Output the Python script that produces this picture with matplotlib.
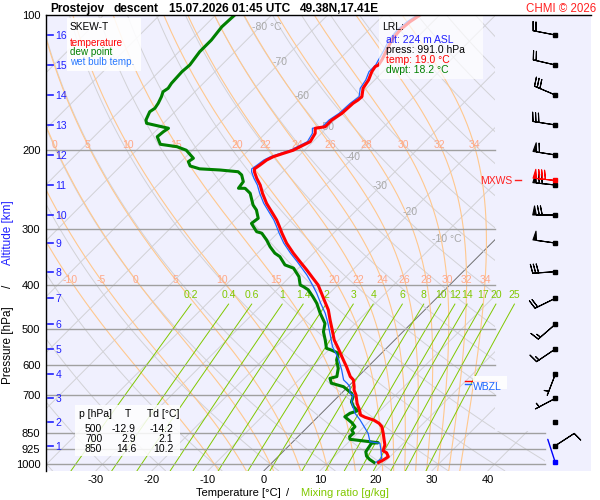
import numpy as np
import matplotlib
matplotlib.use('Agg')
import matplotlib.pyplot as plt
import matplotlib.patches as mpatches
import matplotlib.transforms as mtransforms
from matplotlib.ticker import NullLocator, NullFormatter

plt.rcParams['font.family'] = ['Liberation Sans', 'DejaVu Sans']

# ---------------- data ----------------
temp_p = [991, 978.5, 962, 943, 933, 906, 886, 853, 825, 811, 797, 786, 777, 757, 732, 701,
          684, 672, 649, 638, 607, 586, 552, 529, 503, 477.5, 453.6, 434.7, 416.4, 399,
          385.6, 369.5, 354, 339, 322, 306, 296, 286, 274, 262.5, 249.4, 239, 231, 223.3,
          220, 215.7, 210.3, 206.7, 203.2, 200, 196.4, 191.4, 183.4, 178.7, 177.3, 171.3,
          165.5, 157.2, 154.6, 152, 145.6, 139.5, 133.7, 130.3, 129.2, 125.9, 119.6, 113.7,
          108, 103.5, 100]
temp_T = [19.0, 19.4, 19.7, 18.7, 17.7, 17.0, 16.1, 14.6, 13.2, 12.1, 10.5, 8.5, 7.3, 6.2, 4.6, 2.9,
          1.7, 1.1, -0.25, -1.4, -3.8, -5.6, -8.6, -10.8, -12.9, -15.1, -17.2, -19.3, -21.4, -23.5,
          -25.6, -28.2, -30.9, -33.6, -36.6, -39.2, -40.8, -42.5, -44.9, -47.3, -49.8, -51.7, -53.5, -55.1,
          -55.6, -55.3, -55.0, -54.4, -53.2, -52.0, -51.4, -50.5, -51.1, -52.0, -50.5, -50.5,
          -49.9, -49.7, -49.4, -49.3, -50.6, -51.1, -52.0, -52.3, -52.0, -52.3, -53.2, -54.1,
          -54.4, -54.1, -53.5]

dwpt_p = [991, 975, 959, 938, 914, 898, 895.5, 880, 868, 853, 839, 825, 808, 784, 770, 764, 760,
          745, 726, 707, 695, 672, 660, 644, 638, 612, 586, 566, 557, 552, 529, 507, 486, 461,
          438, 424, 409, 402.5, 399, 382.4, 366, 360, 345, 339, 328, 317, 306, 303.6, 291, 283.5,
          271.7, 264.8, 249.4, 243.1, 243, 235, 227, 223.3, 221.3, 220, 216.8, 212, 208.4, 200,
          196.4, 194, 186.6, 181.9, 178.7, 174.2, 171.3, 164.2, 161.3, 157.2, 152, 148.2, 145.6,
          141.9, 133.7, 129.2, 120.7, 113.7, 106.2, 100]
dwpt_Td = [18.2, 16.8, 15.7, 14.8, 14.5, 14.3, 15.4, 9.75, 9.2, 9.3, 8.4, 8.4, 7.1, 4.8, 5.1, 5.7, 6.0,
           4.6, 3.3, 2.7, 1.8, -0.8, -3.6, -4.7, -3.8, -5.0, -6.8, -7.7, -9.5, -10.7, -12.4, -14.2, -15.4, -18.1,
           -20.5, -22.3, -24.4, -25.8, -26.7, -28.4, -30.9, -33.0, -35.4, -36.9, -38.9, -40.7, -42.8, -44.0, -46.4, -46.1,
           -47.9, -49.4, -52.0, -53.8, -55.0, -55.3, -56.8, -58.0, -61.6, -65.4, -67.6, -68.7, -68.4, -71.1,
           -73.4, -76.8, -78.7, -78.5, -78.2, -83.0, -83.7, -84.5, -84.2, -84.5, -85.1, -85.7, -85.4,
           -85.7, -85.9, -85.7, -86.3, -86.3, -86.8, -86.6]

wetb_p = [991, 970, 930, 898, 891, 853, 832, 797, 770, 726, 701, 695, 672, 660, 649, 617, 581,
          547.5, 515.6, 485.6, 461, 438, 416, 399, 379, 354, 339, 322, 306, 296, 286, 274, 262.5,
          249.4, 239, 231, 223.3, 220, 215.7, 210.3, 206.7, 203.2, 200, 196.4, 191.4, 183.4, 178.7,
          177.3, 171.3, 165.5, 157.2, 152, 145.6, 139.5, 133.7, 129.2, 119.6, 113.7, 108, 103.5, 100]
wetb_Tw = [18.5, 18.8, 17.2, 15.8, 13.75, 11.9, 10.5, 8.1, 6.0, 3.3, 2.4, 1.5, 0.36, -0.8, -2.0, -4.1, -6.8,
           -9.9, -12.4, -14.9, -17.2, -19.8, -22.3, -24.5, -27.3, -31.4, -34.1, -37.1, -39.7, -41.3, -43.0, -45.4, -47.8,
           -50.3, -52.2, -54.0, -55.6, -56.1, -55.8, -55.5, -54.9, -53.7, -52.5, -51.9, -51.0, -51.6, -52.5,
           -51.0, -51.0, -50.4, -50.2, -49.8, -51.1, -51.6, -52.5, -52.5, -53.7, -54.6, -54.9, -54.6, -54.0]

# winds at each km of altitude (16 km at top); speed in knots, direction in degrees
wind_km = [16, 15, 14, 13, 12, 11, 10, 9, 8, 7, 6, 5, 4, 3, 2, 1]
wind_p = [110.8, 129.2, 150.7, 175.7, 204.9, 239.0, 278.7, 321.8, 372.7, 427.2, 488.0, 554.0,
          630.6, 713.3, 806.6, 909.4]
wind_dir = [281, 283, 293, 279, 279, 276, 270, 278, 266, 244, 229, 236, 201, 242, 0, 57]
wind_spd = [20, 20, 30, 30, 60, 70, 70, 50, 30, 20, 15, 15, 5, 5, 0, 10]
mxws_p, mxws_dir, mxws_spd = 233.0, 276, 80
sfc_p, sfc_dir, sfc_spd = 991.0, 342, 2

zl_p = 652.0      # 0 deg C level
wbzl_p = 664.0    # wet bulb zero level

lrl_alt, lrl_press, lrl_temp, lrl_dwpt = 224, 991.0, 19.0, 18.2
table_p = [500, 700, 850]
table_T = [-12.9, 2.9, 14.6]
table_Td = [-14.2, 2.1, 10.2]

pressure_levels = [100, 200, 300, 400, 500, 600, 700, 850, 925, 1000]
temp_ticks = [-30, -20, -10, 0, 10, 20, 30, 40]
iso_lab_T = [-80, -70, -60, -50, -40, -30, -20, -10]
iso_lab_p = [106.3, 127.2, 151.5, 177.6, 207.1, 240.2, 274.5, 315.2]
iso_lab_txt = ['-80 °C', '-70', '-60', '-50', '-40', '-30', '-20', '-10 °C']
moist_thw = [-10, -5, 0, 5, 10, 15, 20, 22, 24, 26, 28, 30, 32, 34]
mix_ratios = [0.2, 0.4, 0.6, 1, 1.4, 2, 3, 4, 6, 8, 10, 12, 14, 17, 20, 25]

# ---------------- geometry ----------------
P_BOT = 1033.6
K = 195.1 / 5.6


def skx(T, p):
    return np.asarray(T, dtype=float) + K * np.log(P_BOT / np.asarray(p, dtype=float))


def px2X(px):
    return (px - 264.0) / 5.6


fig = plt.figure(figsize=(6, 5), dpi=100)
ax = fig.add_axes([46 / 600, 1 - 470.7 / 500, 545 / 600, 455.7 / 500])
ax.set_facecolor('#F0F0FE')
ax.set_yscale('log')

X0, X1 = px2X(46), px2X(591)

clip_verts = [(X0 - 5, 90), (px2X(495), 90), (px2X(495), 845), (px2X(545), 845),
              (px2X(545), 1100), (X0 - 5, 1100)]
clip = mpatches.Polygon(clip_verts, closed=True, transform=ax.transData)

GREY = '#D2D2D6'
# isotherms
for T in range(-120, 50, 10):
    col, lw = ('#707070', 0.7) if T == 0 else (GREY, 0.7)
    ln, = ax.plot(skx([T, T], [P_BOT, 100]), [P_BOT, 100], color=col, lw=lw, zorder=1)
    ln.set_clip_path(clip)

# dry adiabats
pp = np.geomspace(P_BOT, 100, 80)
for th in range(-40, 200, 10):
    T = (th + 273.15) * (pp / 1000.0) ** 0.2857 - 273.15
    ln, = ax.plot(skx(T, pp), pp, color=GREY, lw=0.7, zorder=1)
    ln.set_clip_path(clip)


# moist (pseudo) adiabats
def dT_dlnp(T, p):
    es = 6.112 * np.exp(17.67 * (T - 273.15) / (T - 29.65))
    rs = 0.622 * es / (p - es)
    return (287.04 * T + 2.501e6 * rs) / (1005.7 + 2.501e6 ** 2 * rs * 0.622 / (287.04 * T ** 2))


def integrate(T0, p0, p1, n):
    x = np.log(p0)
    h = (np.log(p1) - x) / n
    T = T0
    out_p, out_T = [p0], [T0]
    for _ in range(n):
        k1 = dT_dlnp(T, np.exp(x))
        k2 = dT_dlnp(T + h / 2 * k1, np.exp(x + h / 2))
        k3 = dT_dlnp(T + h / 2 * k2, np.exp(x + h / 2))
        k4 = dT_dlnp(T + h * k3, np.exp(x + h))
        T = T + h / 6 * (k1 + 2 * k2 + 2 * k3 + k4)
        x += h
        out_p.append(np.exp(x))
        out_T.append(T)
    return np.array(out_p), np.array(out_T)


OR_LINE = '#FFC88E'
OR_TEXT = '#FFA888'
for thw in moist_thw:
    pu, Tu = integrate(thw + 273.15, 1000.0, 100.0, 160)
    pd, Td_ = integrate(thw + 273.15, 1000.0, P_BOT, 4)
    pc = np.concatenate([pd[::-1], pu[1:]])
    Tc = np.concatenate([Td_[::-1], Tu[1:]]) - 273.15
    ln, = ax.plot(skx(Tc, pc), pc, color=OR_LINE, lw=0.8, zorder=1.2)
    ln.set_clip_path(clip)
    for plab in (389.0, 194.7):
        Tl = np.interp(np.log(plab), np.log(pc[::-1]), Tc[::-1])
        xl = float(skx(Tl, plab))
        xpx = 264 + 5.6 * xl
        if 50 <= xpx <= 492:
            ax.text(xl, plab, str(thw), color=OR_TEXT, fontsize=7.5, ha='center',
                    va='center', zorder=2)

# mixing ratio lines
MIX = '#80C800'
pm = np.geomspace(P_BOT, 440, 30)
for w in mix_ratios:
    e = w * pm / (622.0 + w)
    le = np.log(e / 6.112)
    Tm = 243.5 * le / (17.67 - le)
    ax.plot(skx(Tm, pm), pm, color=MIX, lw=0.7, zorder=1.3)
    ax.text(float(skx(Tm[-1], pm[-1])), 421, f'{w:g}', color=MIX, fontsize=7.5,
            ha='center', va='center', zorder=2)

# isotherm labels
for T, p, s in zip(iso_lab_T, iso_lab_p, iso_lab_txt):
    tr = mtransforms.offset_copy(ax.transData, fig=fig, x=-8, y=0, units='dots')
    ax.text(float(skx(T, p)), p, s, color='#A8A8A8', fontsize=7.5, ha='left',
            va='center', transform=tr, zorder=2)

# pressure lines
for p in pressure_levels[1:]:
    xmax = px2X(545) if p >= 850 else px2X(495)
    ax.plot([X0, xmax], [p, p], color='#A0A0A0', lw=1.0, zorder=2.5)

# profiles
ax.plot(skx(dwpt_Td, dwpt_p), dwpt_p, color='#008000', lw=2.2, zorder=4)
ax.plot(skx(wetb_Tw, wetb_p), wetb_p, color='#1E64FF', lw=0.9, zorder=5)
ax.plot(skx(temp_T, temp_p), temp_p, color='#FF0000', lw=2.2, zorder=6)

# altitude labels
KMC = '#2020FF'
for km, p in zip(wind_km, wind_p):
    ax.plot([px2X(47.5), px2X(53)], [p, p], color=KMC, lw=1.2, zorder=7, clip_on=False)
    ax.text(px2X(55.5), p, str(km), color=KMC, fontsize=7.5, ha='left',
            va='center_baseline', zorder=7)

# wind barbs
XB = px2X(555.3)
BSIZE = dict(spacing=0.13, height=0.4, width=0.16)
wd = np.radians(np.array(wind_dir, dtype=float))
ws = np.array(wind_spd, dtype=float)
wp = np.array(wind_p)
m = ws > 0
u = -ws * np.sin(wd)
v = -ws * np.cos(wd)
ax.barbs(np.full(m.sum(), XB), wp[m], u[m], v[m], length=5.7, lw=0.8, color='black',
         sizes=BSIZE, zorder=8, clip_on=False)
md = np.radians(mxws_dir)
ax.barbs([XB], [mxws_p], [-mxws_spd * np.sin(md)], [-mxws_spd * np.cos(md)], length=5.7,
         lw=0.8, color='#FF0000', sizes=BSIZE, zorder=8.5, clip_on=False)
ax.plot(np.full(len(wp), XB), wp, 's', ms=2.6, color='black', zorder=9, clip_on=False)
ax.plot([XB], [mxws_p], 's', ms=2.6, color='#FF0000', zorder=9, clip_on=False)
sd = np.radians(sfc_dir)
L = 17.5
ax.annotate('', xy=(XB, sfc_p), xytext=(L * np.sin(sd), L * np.cos(sd)),
            textcoords='offset points',
            arrowprops=dict(arrowstyle='-', color='#0000FF', lw=1.0, shrinkA=0, shrinkB=0),
            zorder=8, annotation_clip=False)
ax.plot([XB], [sfc_p], 's', ms=2.6, color='#0000FF', zorder=9, clip_on=False)

# MXWS marker
ax.text(px2X(512), mxws_p, 'MXWS', color='#FF2020', fontsize=7.5, ha='right',
        va='center_baseline', zorder=9)
ax.plot([px2X(515), px2X(521)], [mxws_p, mxws_p], color='#FF2020', lw=1.0, zorder=9)

# ZL / WBZL markers
ax.plot([px2X(465), px2X(497)], [zl_p, zl_p], color='#FF0000', lw=1.0, zorder=9)
ax.plot([px2X(465), px2X(471)], [wbzl_p, wbzl_p], color='#1E64FF', lw=1.0, zorder=9)

# axes styling
ax.set_ylim(P_BOT, 100)
ax.set_xlim(X0, X1)
ax.set_yticks(pressure_levels)
ax.set_yticklabels([str(p) for p in pressure_levels], fontsize=8)
ax.yaxis.set_minor_locator(NullLocator())
ax.yaxis.set_minor_formatter(NullFormatter())
ax.set_xticks(temp_ticks)
ax.set_xticklabels([str(t) for t in temp_ticks], fontsize=8)
ax.tick_params(axis='both', length=0)
ax.tick_params(axis='y', pad=4)
ax.tick_params(axis='x', pad=3)
for s in ('right', 'bottom'):
    ax.spines[s].set_visible(False)
for s in ('top', 'left'):
    ax.spines[s].set_linewidth(1.0)
    ax.spines[s].set_zorder(12)


# white boxes (pixel coords)
def box(x0, y0, x1, y1, alpha):
    ax.add_patch(mpatches.Rectangle(((x0 - 46) / 545, (470.7 - y1) / 455.7),
                                    (x1 - x0) / 545, (y1 - y0) / 455.7,
                                    transform=ax.transAxes, facecolor='white',
                                    edgecolor='none', alpha=alpha, zorder=10, clip_on=False))


box(66.7, 18.3, 140.7, 70.7, 0.88)
box(379, 15.6, 482.7, 79, 0.68)
box(75, 405, 180, 456, 0.85)
box(473.3, 376, 507.3, 389.3, 0.9)


def ft(x, y, s, **kw):
    kw.setdefault('fontsize', 7.5)
    kw.setdefault('va', 'baseline')
    fig.text(x / 600, 1 - y / 500, s, **kw)


# title
ft(50.7, 11.7, 'Prostejov', fontsize=8.6, fontweight='bold')
ft(114, 11.7, 'descent', fontsize=8.6, fontweight='bold')
ft(169, 11.7, '15.07.2026 01:45 UTC', fontsize=8.6, fontweight='bold')
ft(300, 11.7, '49.38N,17.41E', fontsize=8.6, fontweight='bold')
ft(596, 11.7, 'CHMI © 2026', fontsize=8.3, color='#FF2020', ha='right')

# legend
ft(70, 30, 'SKEW-T', color='black', fontsize=7.3)
ft(70, 45.5, 'temperature', color='#FF0000', fontsize=7.1)
ft(70, 55.2, 'dew point', color='#008000', fontsize=7.1)
ft(70, 64.8, 'wet bulb temp.', color='#2878FF', fontsize=7.1)

# LRL box
ft(382.3, 30, 'LRL:', color='black')
ft(386, 43, f'alt: {lrl_alt} m ASL', color=KMC)
ft(386, 53.3, f'press: {lrl_press:.1f} hPa', color='black')
ft(386, 63.3, f'temp: {lrl_temp:.1f} °C', color='#FF0000')
ft(386, 72.7, f'dwpt: {lrl_dwpt:.1f} °C', color='#008000')

# table
ft(79, 416.7, 'p [hPa]')
ft(125, 416.7, 'T')
ft(147, 416.7, 'Td [°C]')
for i, (p, t, td) in enumerate(zip(table_p, table_T, table_Td)):
    yb = 431.6 + i * 10.3
    ft(102.3, yb, f'{p}', ha='right')
    ft(136, yb, f'{t:.1f}', ha='right')
    ft(173.3, yb, f'{td:.1f}', ha='right')

# WBZL text
ft(472.7, 390, 'WBZL', color='#1E64FF')

# axis titles
ft(238.5, 493, 'Temperature [°C]', fontsize=8, ha='center', va='center')
ft(288, 493, '/', fontsize=8, ha='center', va='center')
ft(344.5, 493, 'Mixing ratio [g/kg]', fontsize=8, ha='center', va='center', color=MIX)
ft(8, 345, 'Pressure [hPa]', fontsize=8.5, ha='center', va='center', rotation=90)
ft(8, 286, '/', fontsize=8.5, ha='center', va='center', rotation=90)
ft(8, 233, 'Altitude [km]', fontsize=8.5, ha='center', va='center', rotation=90, color=KMC)

fig.savefig('out.png', dpi=100)
